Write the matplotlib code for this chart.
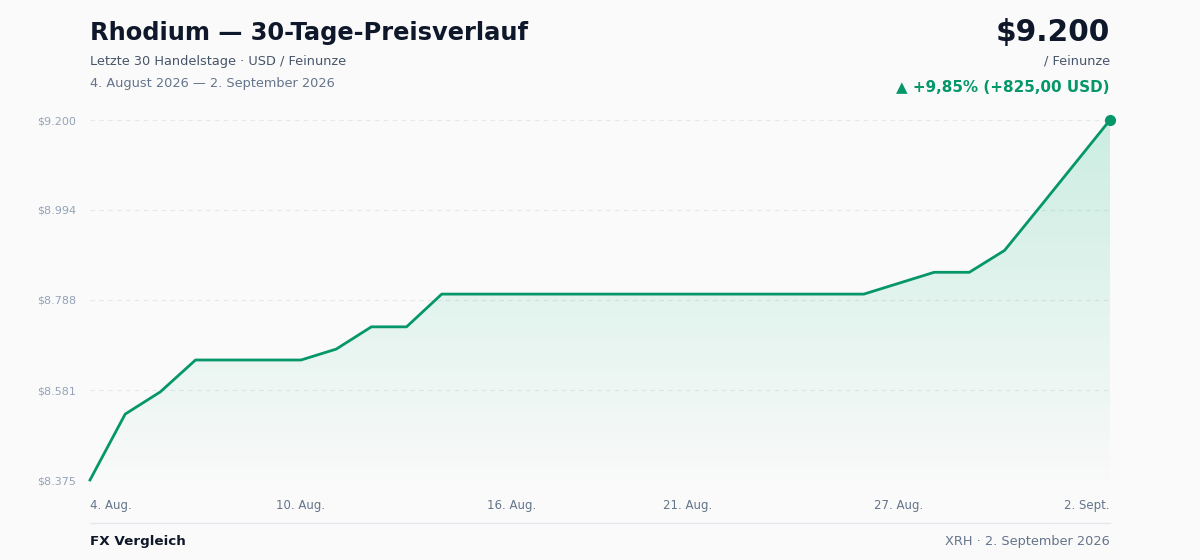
import matplotlib
matplotlib.use("Agg")
import matplotlib.pyplot as plt
import numpy as np
from matplotlib.patches import Polygon
from matplotlib.colors import LinearSegmentedColormap

prices = [8375, 8526, 8577, 8650, 8650, 8650, 8650, 8675, 8726, 8726,
          8801, 8801, 8801, 8801, 8801, 8801, 8801, 8801, 8801, 8801,
          8801, 8801, 8801, 8826, 8851, 8851, 8901, 9000, 9100, 9200]
xtick_idx = [0, 6, 12, 17, 23, 29]
xtick_labels = ["4. Aug.", "10. Aug.", "16. Aug.", "21. Aug.", "27. Aug.", "2. Sept."]
ytick_vals = [8375, 8581, 8788, 8994, 9200]
ytick_labels = ["$8.375", "$8.581", "$8.788", "$8.994", "$9.200"]

plt.rcParams['font.family'] = ['DejaVu Sans']
bg = '#fafafa'
green = '#059669'
fig = plt.figure(figsize=(12, 5.6), dpi=100, facecolor=bg)
ax = fig.add_axes([90/1200, 80/560, 1020/1200, 360/560], facecolor=bg)
x = np.arange(len(prices))
y0, y1 = 8375, 9200
pad = 25
ax.set_xlim(0, len(prices)-1)
ax.set_ylim(y0, y1)

grad = np.linspace(0, 1, 256).reshape(-1, 1)
cmap = LinearSegmentedColormap.from_list('g', [(0.063, 0.725, 0.506, 0.0), (0.063, 0.725, 0.506, 0.2)])
im = ax.imshow(grad, extent=[0, len(prices)-1, y0-pad, y1], origin='lower', aspect='auto', cmap=cmap, zorder=1)
poly = Polygon(np.column_stack([np.r_[x, x[-1], x[0]], np.r_[prices, y0-pad, y0-pad]]), closed=True,
               transform=ax.transData, facecolor='none', edgecolor='none')
ax.add_patch(poly)
im.set_clip_path(poly)
ax.set_xlim(0, len(prices)-1)
ax.set_ylim(y0, y1)

for v in ytick_vals:
    ax.axhline(v, color='#e5e7eb', lw=0.8, ls=(0, (4, 4)), zorder=0)
ax.plot(x, prices, color=green, lw=2, zorder=3, clip_on=False, solid_joinstyle='round')
ax.plot([x[-1]], [prices[-1]], 'o', color=green, ms=7, zorder=4, clip_on=False)

for s in ax.spines.values():
    s.set_visible(False)
ax.set_yticks(ytick_vals)
ax.set_yticklabels(ytick_labels, fontsize=8, color='#94a3b8')
ax.set_xticks(xtick_idx)
ax.set_xticklabels(xtick_labels, fontsize=8.5, color='#64748b')
ax.tick_params(length=0)
ax.tick_params(axis='x', pad=14)
ax.tick_params(axis='y', pad=10)
labs = ax.get_xticklabels()
labs[0].set_ha('left'); labs[-1].set_ha('right')

fig.text(90/1200, 1-33/560, "Rhodium — 30-Tage-Preisverlauf", fontsize=17.4, fontweight='bold', color='#0f172a', va='center')
fig.text(90/1200, 1-61/560, "Letzte 30 Handelstage · USD / Feinunze", fontsize=9.3, color='#475569', va='center')
fig.text(90/1200, 1-83/560, "4. August 2026 — 2. September 2026", fontsize=9.3, color='#64748b', va='center')
fig.text(1110/1200, 1-32/560, "$9.200", fontsize=21.3, fontweight='bold', color='#0f172a', va='center', ha='right')
fig.text(1110/1200, 1-61/560, "/ Feinunze", fontsize=9.3, color='#475569', va='center', ha='right')
fig.text(1110/1200, 1-87/560, "▲ +9,85% (+825,00 USD)", fontsize=10.9, fontweight='bold', color=green, va='center', ha='right')
fig.add_artist(plt.Line2D([90/1200, 1110/1200], [1-523/560]*2, color='#e5e7eb', lw=1))
fig.text(90/1200, 1-541/560, "FX Vergleich", fontsize=9.7, fontweight='bold', color='#0f172a', va='center')
fig.text(1110/1200, 1-541/560, "XRH · 2. September 2026", fontsize=9.3, color='#64748b', va='center', ha='right')

fig.savefig("out.png", dpi=100, facecolor=bg)
